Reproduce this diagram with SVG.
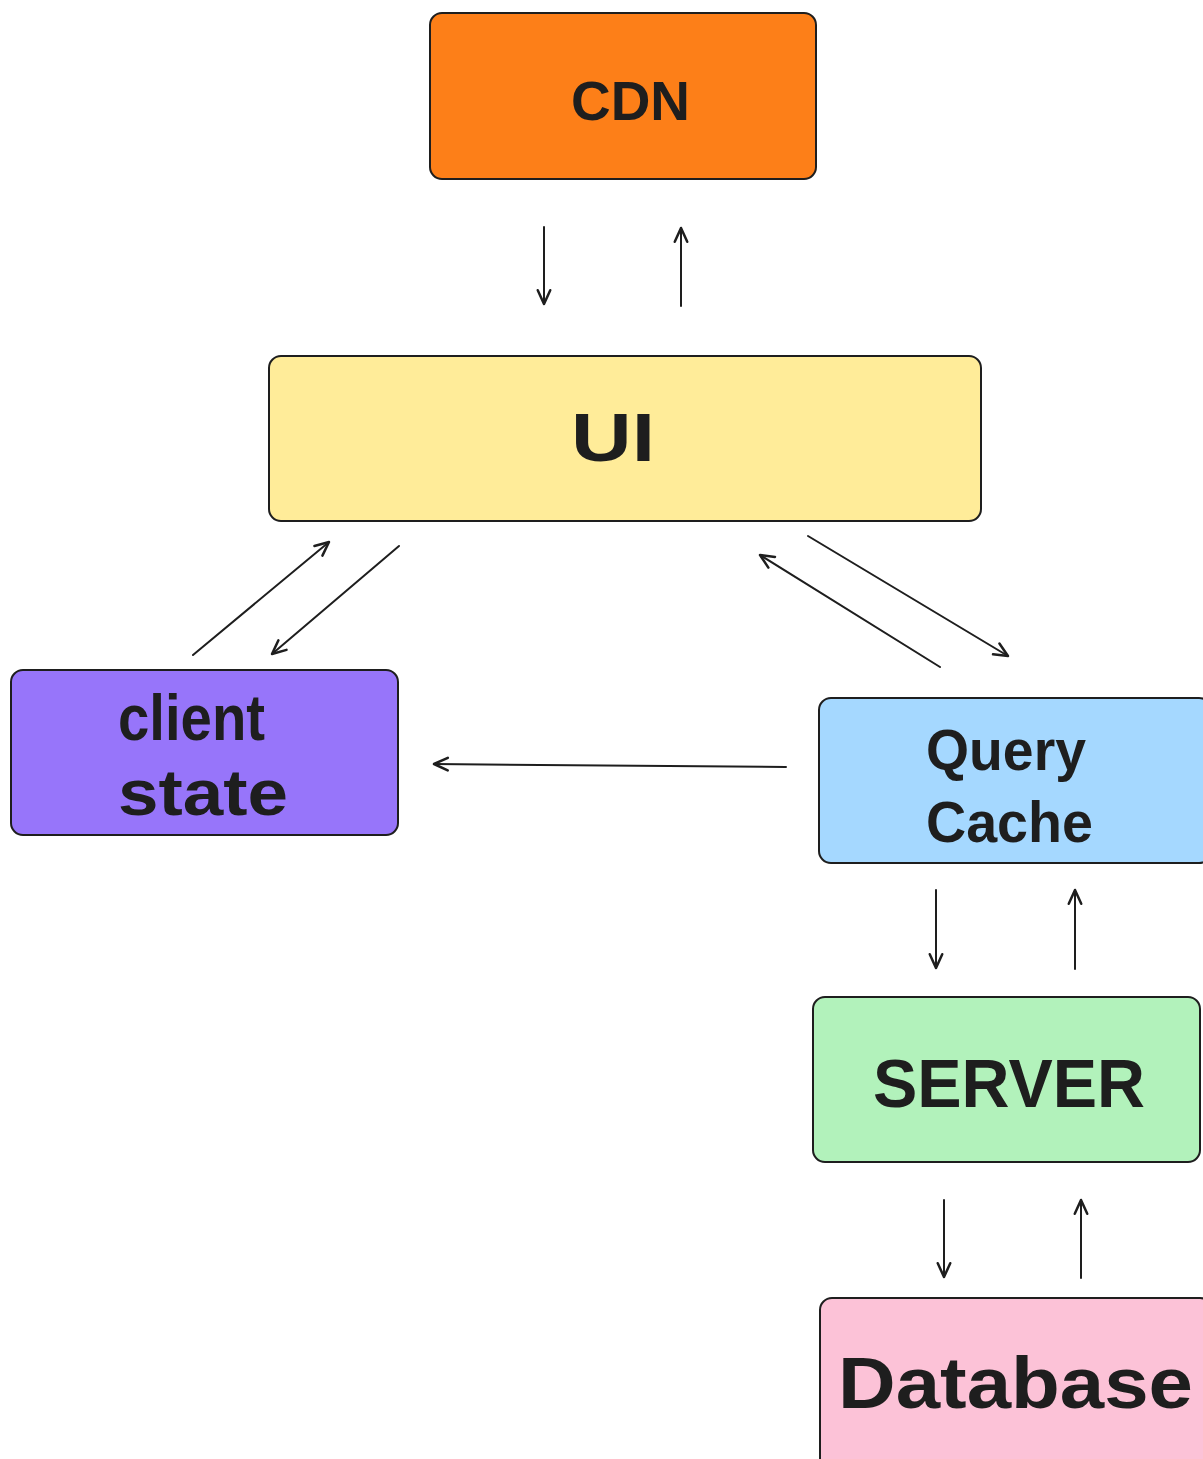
<svg xmlns="http://www.w3.org/2000/svg" width="1203" height="1459" viewBox="0 0 1203 1459">
<style>
.box{stroke:#1e1e1e;stroke-width:2}
.lbl{font-family:"Liberation Sans","DejaVu Sans",sans-serif;fill:#1e1e1e;font-weight:bold}
.cn{fill:none;stroke:#1e1e1e;stroke-width:2;stroke-linecap:round;marker-end:url(#ah)}
</style>
<defs>
<marker id="ah" markerUnits="userSpaceOnUse" markerWidth="20" markerHeight="20" viewBox="-12 -8 14 16" refX="0" refY="0" orient="auto">
<path d="M -11 -5 L 0 0 L -11 5" fill="none" stroke="#1e1e1e" stroke-width="2" stroke-linecap="round" stroke-linejoin="round"/>
</marker>
</defs>
<rect width="1203" height="1459" fill="#ffffff"/>
<g id="cdn">
<rect class="box" x="430" y="13" width="386" height="166" rx="12" fill="#fd7f18"/>
<text class="lbl" x="571" y="120" font-size="56" textLength="119" lengthAdjust="spacingAndGlyphs">CDN</text>
</g>
<g id="ui">
<rect class="box" x="269" y="356" width="712" height="165" rx="12" fill="#ffec99"/>
<text class="lbl" x="571" y="461" font-size="68" textLength="84" lengthAdjust="spacingAndGlyphs">UI</text>
</g>
<g id="client-state">
<rect class="box" x="11" y="670" width="387" height="165" rx="12" fill="#9775fa"/>
<text class="lbl" x="118" y="740" font-size="64" textLength="147" lengthAdjust="spacingAndGlyphs">client</text>
<text class="lbl" x="118" y="815" font-size="64" textLength="170" lengthAdjust="spacingAndGlyphs">state</text>
</g>
<g id="query-cache">
<rect class="box" x="819" y="698" width="392" height="165" rx="12" fill="#a5d8ff"/>
<text class="lbl" x="926" y="770" font-size="58" textLength="160" lengthAdjust="spacingAndGlyphs">Query</text>
<text class="lbl" x="926" y="842" font-size="58" textLength="167" lengthAdjust="spacingAndGlyphs">Cache</text>
</g>
<g id="server">
<rect class="box" x="813" y="997" width="387" height="165" rx="12" fill="#b2f2bb"/>
<text class="lbl" x="873" y="1107" font-size="68" textLength="272" lengthAdjust="spacingAndGlyphs">SERVER</text>
</g>
<g id="database">
<rect class="box" x="820" y="1298" width="392" height="180" rx="12" fill="#fcc2d7"/>
<text class="lbl" x="838" y="1408" font-size="72" textLength="355" lengthAdjust="spacingAndGlyphs">Database</text>
</g>
<g id="connectors">
<path class="cn" d="M544 227 L544 304"/>
<path class="cn" d="M681 306 L681 228"/>
<path class="cn" d="M193 655 L329 542"/>
<path class="cn" d="M399 546 L272 654"/>
<path class="cn" d="M940 667 L760 555"/>
<path class="cn" d="M808 536 L1008 656"/>
<path class="cn" d="M786 767 L434 764"/>
<path class="cn" d="M936 890 L936 968"/>
<path class="cn" d="M1075 969 L1075 890"/>
<path class="cn" d="M944 1200 L944 1277"/>
<path class="cn" d="M1081 1278 L1081 1200"/>
</g>
</svg>
